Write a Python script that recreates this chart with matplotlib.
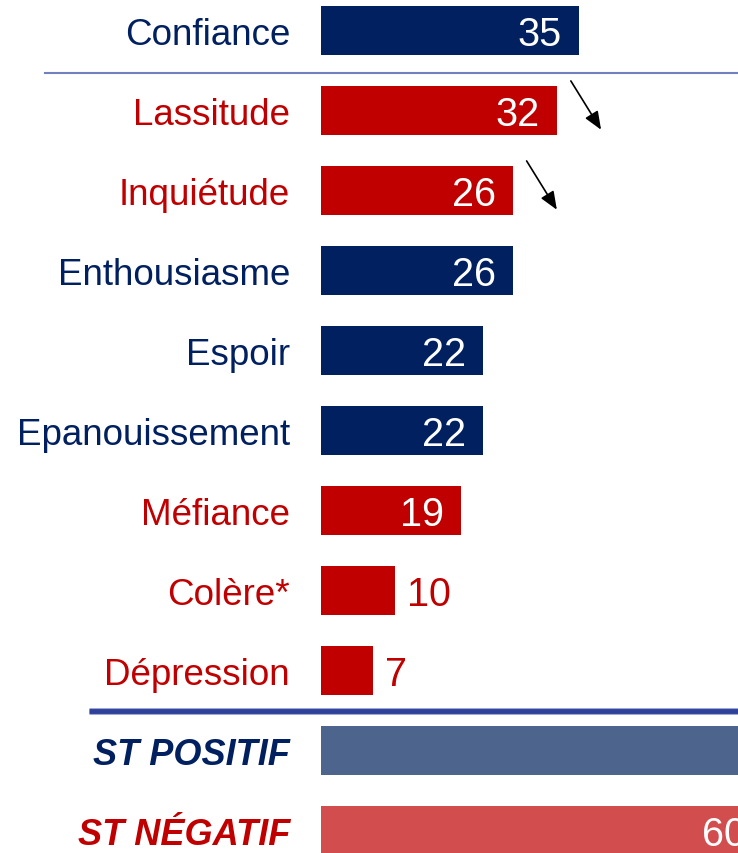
import matplotlib.pyplot as plt

plt.rcParams['font.family'] = ['Liberation Sans', 'DejaVu Sans']

# donnees
labels = ["Confiance", "Lassitude", "Inquiétude", "Enthousiasme", "Espoir",
          "Epanouissement", "Méfiance", "Colère*", "Dépression",
          "ST POSITIF", "ST NÉGATIF"]
values = [35, 32, 26, 26, 22, 22, 19, 10, 7, 65, 60]
signe = ["pos", "neg", "neg", "pos", "pos", "pos", "neg", "neg", "neg", "pos", "neg"]
en_baisse = ["Lassitude", "Inquiétude"]
totaux = ["ST POSITIF", "ST NÉGATIF"]

NAVY = "#002060"
RED = "#C00000"
bar_col = {"pos": NAVY, "neg": RED}
tot_col = {"pos": "#4D648D", "neg": "#D24D4D"}

XMAX = 417 / 7.37

fig = plt.figure(figsize=(7.38, 8.54), dpi=100)
ax = fig.add_axes([321 / 738, 0, 417 / 738, 1])
ax.set_xlim(0, XMAX)
ax.set_ylim(10.28, -0.394)
ax.axis("off")

for i, (lab, v, s) in enumerate(zip(labels, values, signe)):
    total = lab in totaux
    c = tot_col[s] if total else bar_col[s]
    ax.barh(i, v, height=0.62, color=c)
    txt_col = NAVY if s == "pos" else RED
    if total:
        ax.text(-4.2, i, lab, ha="right", va="center_baseline", fontsize=26,
                fontweight="bold", fontstyle="italic", color=txt_col, clip_on=False)
    else:
        ax.text(-4.2, i, lab, ha="right", va="center_baseline", fontsize=26.5,
                color=txt_col, clip_on=False)
    if v >= 15:
        # etiquette seulement si visible dans le cadre
        if v - 2.3 - 6 < XMAX:
            ax.text(v - 2.3, i - 0.01, str(v), ha="right", va="center_baseline",
                    fontsize=28.5, color="white", clip_on=False)
    else:
        ax.text(v + 1.7, i - 0.01, str(v), ha="left", va="center_baseline",
                fontsize=28.5, color=txt_col, clip_on=False)
    if lab in en_baisse:
        ax.annotate("", xy=(v + 6.0, i + 0.24), xytext=(v + 1.9, i - 0.37),
                    arrowprops=dict(arrowstyle="-|>,head_length=1.1,head_width=0.45",
                                    color="black", lw=1.2, shrinkA=0, shrinkB=0),
                    annotation_clip=False)

# separateurs
ax.plot([-37.4, XMAX], [0.53, 0.53], color="#7080C0", lw=1.5, clip_on=False)
ax.plot([-31.5, XMAX], [8.5, 8.5], color="#9AA6D6", lw=5, clip_on=False,
        solid_capstyle="butt")
ax.plot([-31.5, XMAX], [8.5, 8.5], color="#2E4099", lw=3.5, clip_on=False,
        solid_capstyle="butt")

fig.savefig("out.png", dpi=100)
